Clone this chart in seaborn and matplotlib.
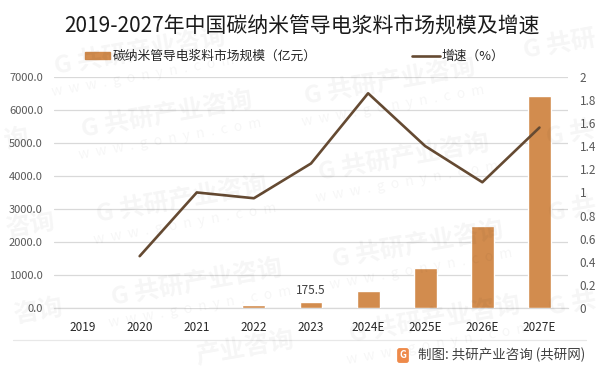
import matplotlib
matplotlib.use('Agg')
import matplotlib.pyplot as plt
import numpy as np
import pandas as pd
import seaborn as sns

years = ['2019', '2020', '2021', '2022', '2023', '2024E', '2025E', '2026E', '2027E']
market_size = [np.nan, np.nan, 45, 90, 175.5, 510, 1220, 2500, 6414]
growth = [np.nan, 0.45, 1.0, 0.95, 1.25, 1.856, 1.40, 1.088, 1.56]
left_ticks = [0, 1000, 2000, 3000, 4000, 5000, 6000, 7000]
right_ticks = [0, 0.2, 0.4, 0.6, 0.8, 1, 1.2, 1.4, 1.6, 1.8, 2]
right_labels = ['0', '0.2', '0.4', '0.6', '0.8', '1', '1.2', '1.4', '1.6', '1.8', '2']

title = '2019-2027年中国碳纳米管导电浆料市场规模及增速'
bar_name = '碳纳米管导电浆料市场规模（亿元）'
line_name = '增速（%）'
source = '制图: 共研产业咨询 (共研网)'
watermark = 'G 共研产业咨询'
watermark_url = 'w  w  w  .  g  o  n  y  n  .  c  o  m'

BAR = '#D28C4E'
LINE = '#654A32'
GRID = '#D9D9D9'
TICK = '#595959'

sns.set_theme(style='white')
plt.rcParams['font.family'] = ['Noto Sans CJK SC', 'DejaVu Sans']

data = pd.DataFrame({'year': years, 'size': market_size, 'growth': growth})

fig = plt.figure(figsize=(6.01, 3.73), dpi=100)
ax = fig.add_axes([54 / 601, 1 - 308.3 / 373, (568 - 54) / 601, (308.3 - 76.6) / 373])

sns.barplot(data=data, x='year', y='size', color=BAR, saturation=1, width=0.4, ax=ax, zorder=3)
ax.set_ylim(0, 7000)
ax.set_xlim(-0.5, 8.5)
ax.set_yticks(left_ticks, [f'{v:.1f}' for v in left_ticks])
ax.yaxis.grid(True, color=GRID, linewidth=0.9)
ax.set_axisbelow(True)
ax.set_xlabel('')
ax.set_ylabel('')
ax.tick_params(axis='y', length=0, labelsize=8, labelcolor=TICK, pad=8)
ax.tick_params(axis='x', length=0, labelsize=8.5, labelcolor='#262626', pad=9)
sns.despine(ax=ax, left=True, top=True, right=True)
ax.spines['bottom'].set_color(GRID)
ax.spines['bottom'].set_linewidth(0.9)
ax.annotate('175.5', (4, 175.5), xytext=(0, 4), textcoords='offset points',
            ha='center', va='bottom', fontsize=8.5, color='#404040')

ax2 = ax.twinx()
sns.lineplot(data=data.dropna(subset=['growth']), x='year', y='growth', color=LINE,
             linewidth=1.9, sort=False, errorbar=None, ax=ax2, zorder=4)
ax2.set_ylim(0, 2)
ax2.set_yticks(right_ticks, right_labels)
ax2.set_xlabel('')
ax2.set_ylabel('')
ax2.tick_params(axis='y', length=0, labelsize=8.5, labelcolor=TICK, pad=8.5)
sns.despine(ax=ax2, left=True, top=True, right=True, bottom=True)

fig.text(302 / 601, 1 - 27 / 373, title, ha='center', va='center', fontsize=15, color='#1a1a1a')

# legend, placed by hand like the original
fig.patches.append(plt.Rectangle((85 / 601, 1 - 59 / 373), 25 / 601, 7 / 373, color=BAR,
                                 transform=fig.transFigure))
fig.text(113 / 601, 1 - 56 / 373, bar_name, ha='left', va='center', fontsize=9.2, color='#262626')
fig.add_artist(plt.Line2D([412 / 601, 440 / 601], [1 - 55.7 / 373] * 2, color=LINE, linewidth=1.9))
fig.text(441 / 601, 1 - 56 / 373, line_name, ha='left', va='center', fontsize=9.2, color='#262626')

# footer
fig.add_artist(plt.Line2D([13 / 601, 586 / 601], [1 - 340 / 373] * 2, color='#E8E8E8', linewidth=0.9))
fig.text(403 / 601, 1 - 355.5 / 373, 'G', ha='center', va='center', fontsize=7, fontweight='bold',
         color='white', bbox=dict(boxstyle='round,pad=0.25', fc='#EE8A4A', ec='none'))
fig.text(418 / 601, 1 - 355 / 373, source, ha='left', va='center', fontsize=9.7, color='#404040')

# watermarks, edge ones only keep the part that shows
for text, x, y in [(watermark, 167, 115), (watermark, 182, 200), (watermark, 390, 82),
                   (watermark, 404, 158), (watermark, 418, 245), (watermark, 197, 283),
                   (watermark, 435, 320), (watermark, 140, 52)]:
    fig.text(x / 601, 1 - y / 373, text, rotation=10, ha='center', va='center', fontsize=18,
             fontweight='bold', color='#000000', alpha=0.04)
    fig.text((x + 3) / 601, 1 - (y + 24) / 373, watermark_url, rotation=10, ha='center', va='center',
             fontsize=10, color='#000000', alpha=0.04)
for text, x, y in [('询', 16, 140), ('咨询', 30, 226), ('G 共', 570, 134), ('G 共', 572, 210),
                   ('咨询', 38, 312), ('G 共', 572, 304), ('产业咨询', 245, 348), ('G 共研', 560, 45)]:
    fig.text(x / 601, 1 - y / 373, text, rotation=10, ha='center', va='center', fontsize=18,
             fontweight='bold', color='#000000', alpha=0.04)

fig.savefig('out.png', dpi=100)
